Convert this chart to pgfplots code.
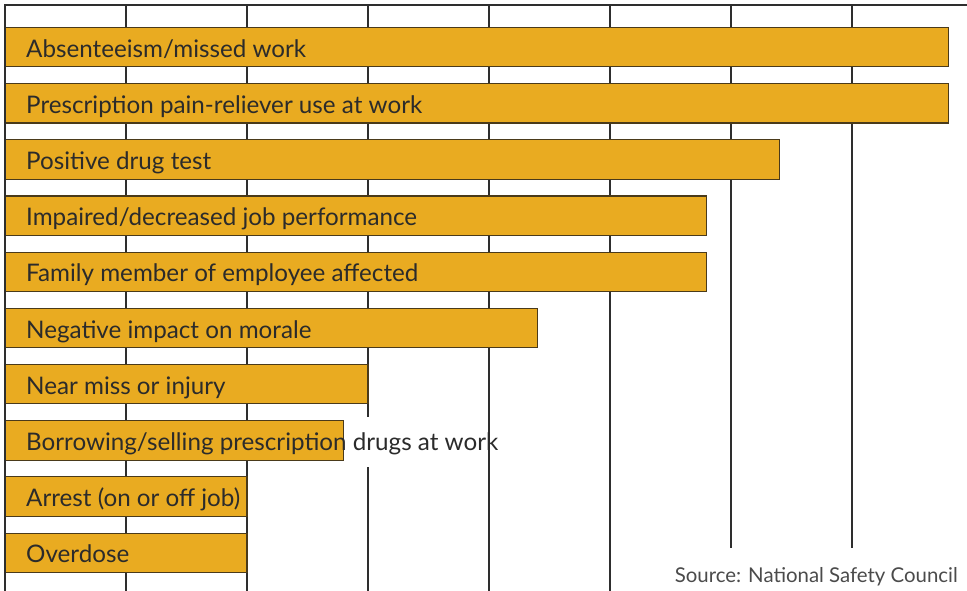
\documentclass[border=0pt]{standalone}
\usepackage{pgfplots}
\pgfplotsset{compat=1.18}
\usepackage{fontspec}
\setmainfont{Lato}
\definecolor{gold}{HTML}{E9AB21}
\definecolor{barline}{HTML}{4A3A1A}
\definecolor{gridc}{HTML}{2E2E2E}
\definecolor{txt}{HTML}{2B2B2B}
\begin{document}
\begin{tikzpicture}
\path[use as bounding box] (-5pt,0pt) rectangle (962pt,591pt);
\begin{axis}[
  at={(0,0)}, anchor=south west, scale only axis,
  width=962pt, height=586pt,
  xmin=0, xmax=39.75, ymin=-0.75, ymax=9.68, y dir=reverse,
  axis line style={draw=none},
  xtick={5,10,...,35}, xticklabels={}, ytick=\empty,
  major tick length=0pt,
  xmajorgrids, grid style={line width=2.6pt, color=gridc},
  xbar, bar width=0.70,
  clip=false,
]
\addplot[fill=gold, draw=barline, line width=1.1pt] coordinates {
(39,0) (39,1) (32,2) (29,3) (29,4) (22,5) (15,6) (14,7) (10,8) (10,9)};
\fill[white] (axis cs:14.06,6.58) rectangle (axis cs:19.86,7.47);
\fill[white] (axis cs:27.5,8.92) rectangle (axis cs:39.75,9.68);
\draw[gridc, line width=2.6pt] (axis cs:0,9.68) -- (axis cs:0,-0.75) -- (axis cs:39.75,-0.75);
\tikzset{lab/.style={anchor=base west, inner sep=0pt, text=txt, xshift=21pt, font=\fontsize{24.2}{29}\selectfont}}
\node[lab] at (axis cs:0,0.18) {Absenteeism/missed work};
\node[lab] at (axis cs:0,1.18) {Prescription pain-reliever use at work};
\node[lab] at (axis cs:0,2.18) {Positive drug test};
\node[lab] at (axis cs:0,3.18) {Impaired/decreased job performance};
\node[lab] at (axis cs:0,4.18) {Family member of employee affected};
\node[lab] at (axis cs:0,5.18) {Negative impact on morale};
\node[lab] at (axis cs:0,6.18) {Near miss or injury};
\node[lab] at (axis cs:0,7.18) {Borrowing/selling prescription drugs at work};
\node[lab] at (axis cs:0,8.18) {Arrest (on or off job)};
\node[lab] at (axis cs:0,9.18) {Overdose};
\node[anchor=base east, inner sep=0pt, text=txt!85, font=\fontsize{20.4}{24}\selectfont] at (axis cs:39.38,9.52) {Source: National Safety Council};
\end{axis}
\end{tikzpicture}
\end{document}
